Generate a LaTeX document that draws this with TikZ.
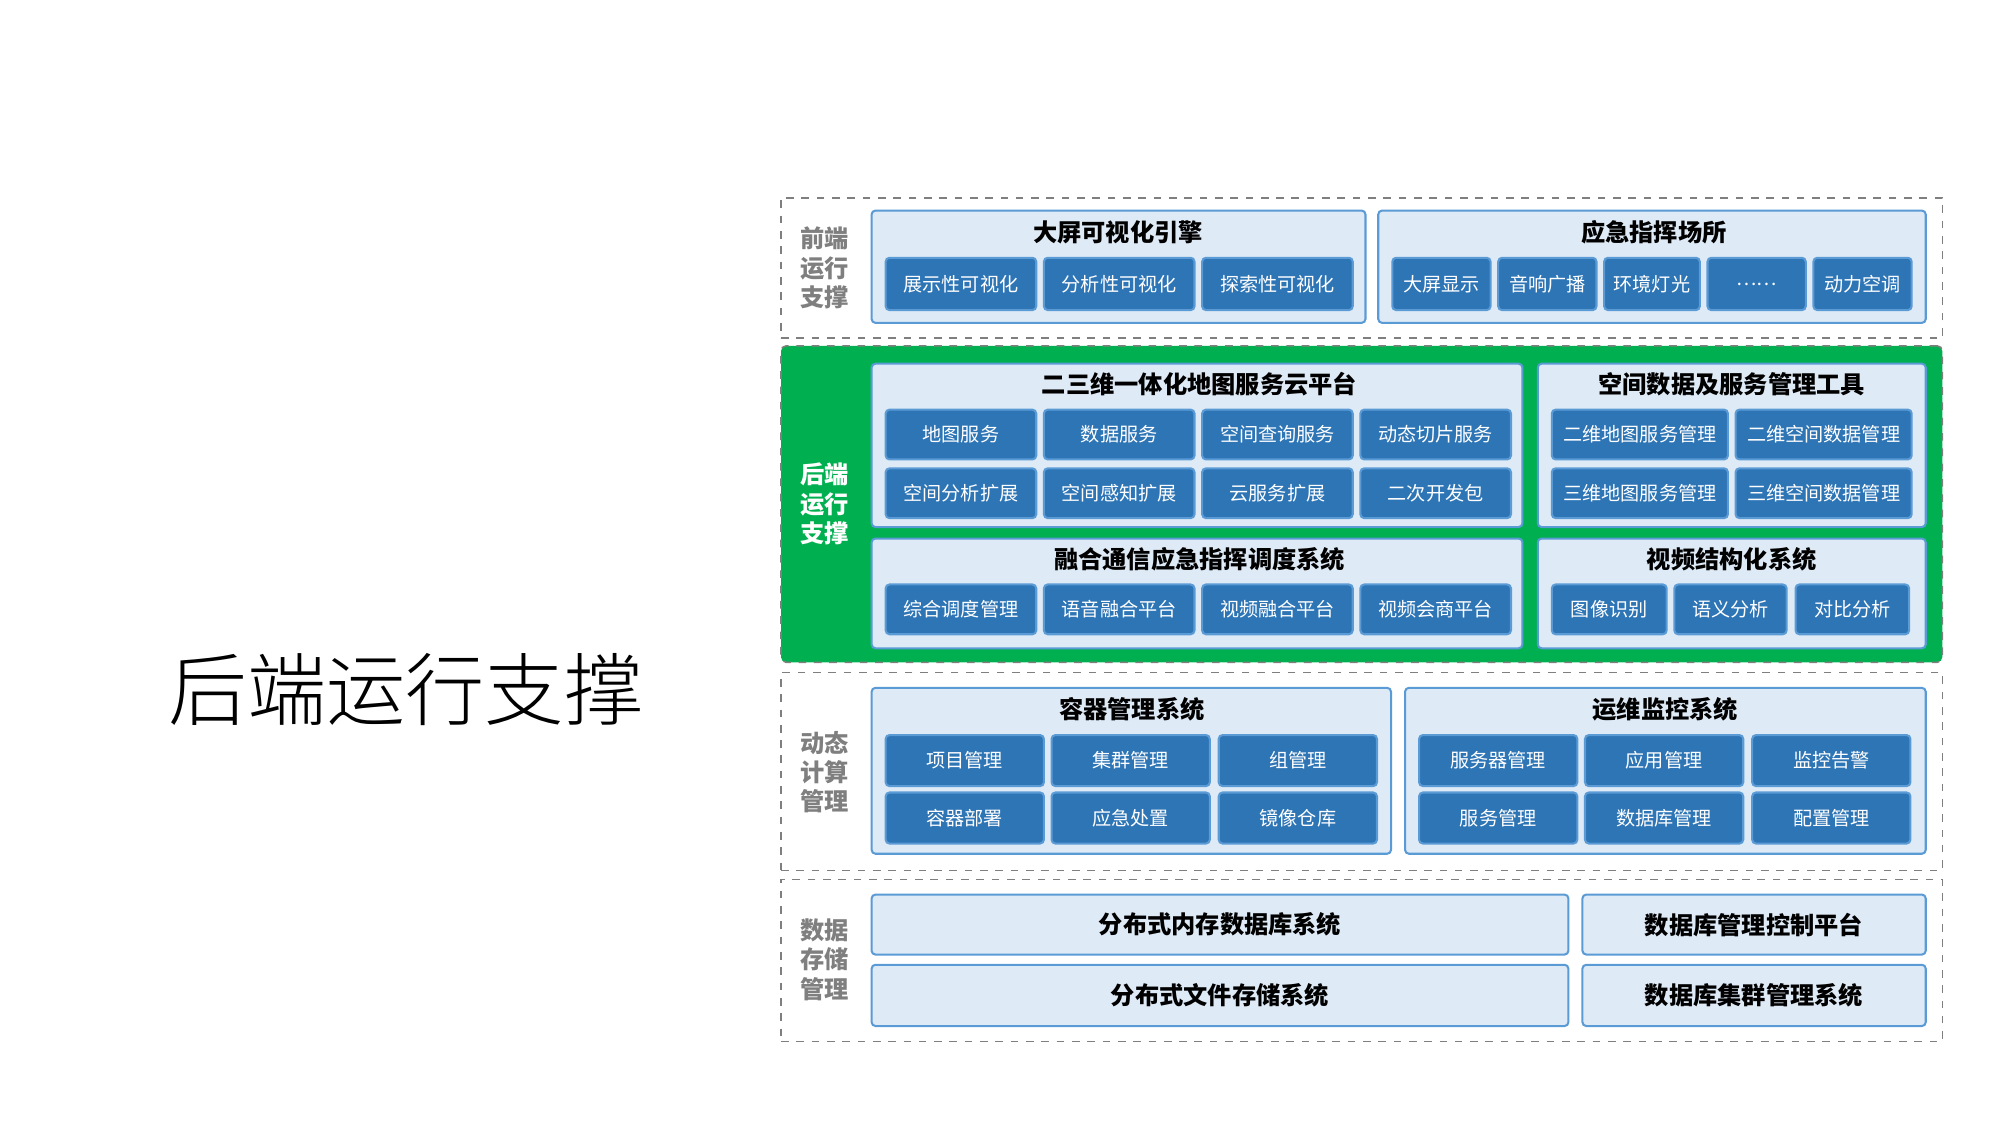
\documentclass[tikz,border=0pt]{standalone}
\usepackage{fontspec}
\setmainfont{Noto Sans CJK SC}
\newfontfamily\titlefont{Noto Sans CJK SC Light}
\definecolor{grpfill}{HTML}{DEEAF6}
\definecolor{grpline}{HTML}{5B9BD5}
\definecolor{boxfill}{HTML}{2E75B6}
\definecolor{layergreen}{HTML}{00B050}
\definecolor{labelgray}{HTML}{7F7F7F}
\tikzset{
  layer/.style={draw=labelgray, dashed, line width=0.6pt},
  greenlayer/.style={draw=labelgray, dashed, line width=0.6pt, fill=layergreen, rounded corners=2pt},
  grp/.style={draw=grpline, fill=grpfill, line width=0.8pt, rounded corners=1.5pt},
  box/.style={draw=grpline, fill=boxfill, line width=0.8pt, rounded corners=1.5pt, text=white, font=\fontsize{7.5}{8}\selectfont},
  bar/.style={grp, font=\bfseries\fontsize{9.5}{10}\selectfont},
  grptitle/.style={font=\bfseries\fontsize{9.5}{10}\selectfont},
  layerlabel/.style={font=\bfseries\fontsize{9.5}{11.5}\selectfont, align=center, text=labelgray},
}
% \blk{name}{style}{x1}{y1}{x2}{y2}{text}
\newcommand{\blk}[7]{%
  \node[#2, inner sep=0pt, minimum width={(#5-#3)*0.5pt}, minimum height={(#6-#4)*0.5pt}]
    (#1) at ({(#3+#5)/2},{(#4+#6)/2}) {#7};}
\begin{document}
\begin{tikzpicture}[x=0.5pt,y=-0.5pt]
\useasboundingbox (0,0) rectangle (1568,882);
% title
\node[font=\titlefont\fontsize{31}{31}\selectfont] (title) at (318,540) {后端运行支撑};
%% layer 1
\blk{front}{layer}{612}{155}{1522}{265}{}
\node[layerlabel] (frontlbl) at (646,210) {前端\\运行\\支撑};
\blk{vis}{grp}{683}{165}{1070}{253}{}
\node[grptitle] at (876,182) {大屏可视化引擎};
\blk{v1}{box}{694}{202}{812}{243}{展示性可视化}
\blk{v2}{box}{818}{202}{936}{243}{分析性可视化}
\blk{v3}{box}{942}{202}{1060}{243}{探索性可视化}
\blk{site}{grp}{1080}{165}{1509}{253}{}
\node[grptitle] at (1296,182) {应急指挥场所};
\foreach \i/\a/\b/\t in {1/1091/1168/大屏显示, 2/1174/1251/音响广播, 3/1257/1332/环境灯光, 4/1338/1415/……, 5/1421/1498/动力空调}
  {\blk{s\i}{box}{\a}{202}{\b}{243}{\t}}
%% layer 2
\blk{back}{greenlayer}{612}{271}{1522}{519}{}
\node[layerlabel, text=white] (backlbl) at (646,395) {后端\\运行\\支撑};
\blk{map}{grp}{683}{285}{1193}{413}{}
\node[grptitle] at (940,301) {二三维一体化地图服务云平台};
\foreach \i/\a/\b/\t/\u in {1/694/812/地图服务/空间分析扩展, 2/818/936/数据服务/空间感知扩展, 3/942/1060/空间查询服务/云服务扩展, 4/1066/1184/动态切片服务/二次开发包}
  {\blk{m\i}{box}{\a}{321}{\b}{360}{\t}
   \blk{n\i}{box}{\a}{367}{\b}{406}{\u}}
\blk{tool}{grp}{1205}{285}{1509}{413}{}
\node[grptitle] at (1357,301) {空间数据及服务管理工具};
\blk{t1}{box}{1216}{321}{1354}{360}{二维地图服务管理}
\blk{t2}{box}{1360}{321}{1498}{360}{二维空间数据管理}
\blk{t3}{box}{1216}{367}{1354}{406}{三维地图服务管理}
\blk{t4}{box}{1360}{367}{1498}{406}{三维空间数据管理}
\blk{comm}{grp}{683}{422}{1193}{508}{}
\node[grptitle] at (940,438) {融合通信应急指挥调度系统};
\foreach \i/\a/\b/\t in {1/694/812/综合调度管理, 2/818/936/语音融合平台, 3/942/1060/视频融合平台, 4/1066/1184/视频会商平台}
  {\blk{c\i}{box}{\a}{458}{\b}{497}{\t}}
\blk{video}{grp}{1205}{422}{1509}{508}{}
\node[grptitle] at (1357,438) {视频结构化系统};
\foreach \i/\a/\b/\t in {1/1216/1306/图像识别, 2/1312/1400/语义分析, 3/1407/1496/对比分析}
  {\blk{d\i}{box}{\a}{458}{\b}{497}{\t}}
%% layer 3
\blk{calc}{layer}{612}{527}{1522}{682}{}
\node[layerlabel] (calclbl) at (646,605) {动态\\计算\\管理};
\blk{cont}{grp}{683}{539}{1090}{669}{}
\node[grptitle] at (887,556) {容器管理系统};
\foreach \i/\a/\b/\t/\u in {1/694/818/项目管理/容器部署, 2/824/948/集群管理/应急处置, 3/955/1079/组管理/镜像仓库}
  {\blk{k\i}{box}{\a}{576}{\b}{616}{\t}
   \blk{l\i}{box}{\a}{621}{\b}{661}{\u}}
\blk{ops}{grp}{1101}{539}{1509}{669}{}
\node[grptitle] at (1305,556) {运维监控系统};
\foreach \i/\a/\b/\t/\u in {1/1112/1236/服务器管理/服务管理, 2/1242/1366/应用管理/数据库管理, 3/1373/1497/监控告警/配置管理}
  {\blk{o\i}{box}{\a}{576}{\b}{616}{\t}
   \blk{p\i}{box}{\a}{621}{\b}{661}{\u}}
%% layer 4
\blk{store}{layer}{612}{689}{1522}{816}{}
\node[layerlabel] (storelbl) at (646,752) {数据\\存储\\管理};
\blk{b1}{bar}{683}{701}{1229}{748}{分布式内存数据库系统}
\blk{b2}{bar}{1240}{701}{1509}{748}{数据库管理控制平台}
\blk{b3}{bar}{683}{756}{1229}{804}{分布式文件存储系统}
\blk{b4}{bar}{1240}{756}{1509}{804}{数据库集群管理系统}
\end{tikzpicture}
\end{document}
